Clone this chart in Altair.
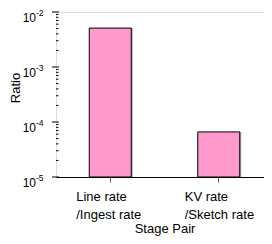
import altair as alt
import pandas as pd

# ---- data ----
pairs = ["Line rate /Ingest rate", "KV rate /Sketch rate"]
label_lines = ["Line rate\n/Ingest rate", "KV rate\n/Sketch rate"]
ratios = [5.1e-3, 6.6e-5]

decades = [1e-5, 1e-4, 1e-3, 1e-2]
exponents = ["-5", "-4", "-3", "-2"]
minor_ticks = [m * 10.0 ** k for k in (-5, -4, -3) for m in range(2, 10)]

FONT = "Liberation Sans"
W, H = 208, 165      # visible plot box (page is 256 px wide inside its margins)
XR = 217             # band-scale range, runs on to the window edge like the reference axis

df = pd.DataFrame({"pair": pairs, "ratio": ratios, "label": label_lines})
df_major = pd.DataFrame({"v": decades, "exp": exponents})
df_minor = pd.DataFrame({"v": minor_ticks})
df_one = pd.DataFrame({"t": ["Ratio"]})

yscale = alt.Scale(type="log", domain=[1e-5, 1e-2], nice=False)

x_enc = alt.X(
    "pair:N",
    sort=pairs,
    scale=alt.Scale(paddingInner=0, paddingOuter=0, range=[0, XR]),
    axis=alt.Axis(
        labels=False, tickSize=5, tickColor="#555555", domainColor="#000000",
        title="Stage Pair", titleFont=FONT, titleFontSize=13, titleFontWeight="normal",
        titleColor="#000000", titleX=108.5, titleY=55, titleBaseline="alphabetic",
    ),
)

y_enc = alt.Y(
    "ratio:Q",
    scale=yscale,
    stack=False,
    axis=alt.Axis(labels=False, ticks=False, grid=False, domainColor="#000000", title=""),
)

shadow = alt.Chart(df).mark_bar(color="#aaaaaa", width=42, xOffset=1.5).encode(
    x=x_enc, y=y_enc, y2=alt.value(H)
)
bars = alt.Chart(df).mark_bar(
    fill="#ff99cc", stroke="#000000", strokeWidth=1, width=42
).encode(x=x_enc, y=y_enc, y2=alt.value(H))

xlabels = alt.Chart(df).mark_text(
    align="left", baseline="alphabetic", dx=-34, lineBreak="\n", lineHeight=18,
    font=FONT, fontSize=13, color="#000000",
).encode(x=x_enc, y=alt.value(188.7), text="label:N")

ytitle = alt.Chart(df_one).mark_text(
    angle=270, align="center", baseline="middle", font=FONT, fontSize=13, color="#000000"
).encode(x=alt.value(-40), y=alt.value(76), text="t:N")

major = alt.Chart(df_major).mark_rule(color="#000000", strokeWidth=1).encode(
    y=alt.Y("v:Q", scale=yscale, axis=None), x=alt.value(-4), x2=alt.value(3)
)
minor = alt.Chart(df_minor).mark_rule(color="#000000", strokeWidth=1).encode(
    y=alt.Y("v:Q", scale=yscale, axis=None), x=alt.value(0), x2=alt.value(2.5)
)

ten = alt.Chart(df_major).mark_text(
    align="right", baseline="middle", dy=5.5, font=FONT, fontSize=12, color="#000000"
).encode(y=alt.Y("v:Q", scale=yscale, axis=None), x=alt.value(-20), text=alt.value("10"))
expo = alt.Chart(df_major).mark_text(
    align="left", baseline="middle", dy=1, font=FONT, fontSize=8.5, color="#000000"
).encode(y=alt.Y("v:Q", scale=yscale, axis=None), x=alt.value(-20), text="exp:N")

chart = alt.layer(shadow, bars, xlabels, ytitle, major, minor, ten, expo).properties(
    width=W, height=H,
    autosize=alt.AutoSizeParams(type="none"),
    padding={"left": 48, "top": 4, "right": 0, "bottom": 59},
).configure_view(stroke=None).configure(font=FONT)

chart.save("out.html", embed_options={"renderer": "svg", "actions": False})
